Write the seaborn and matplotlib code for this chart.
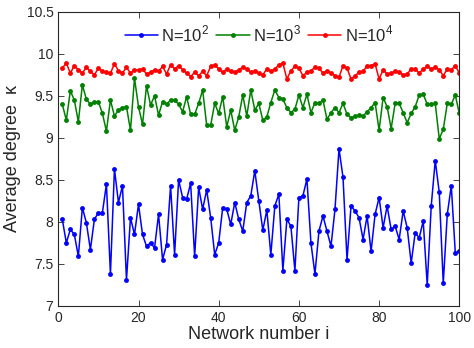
import numpy as np
import pandas as pd
import matplotlib
matplotlib.use("Agg")
import matplotlib.pyplot as plt
import seaborn as sns

# network index
idx = list(range(1, 101))

# average degree, N=10^2
k_100 = [8.03, 7.75, 7.91, 7.85, 7.59, 8.17, 7.99, 7.67, 8.03, 8.11,
         8.11, 8.45, 7.38, 8.63, 8.23, 8.43, 7.31, 8.05, 7.85, 8.21,
         7.85, 7.71, 7.75, 7.69, 8.09, 7.55, 7.73, 8.43, 7.61, 8.50,
         8.29, 8.27, 8.46, 7.59, 8.41, 8.15, 8.38, 8.05, 7.61, 7.75,
         8.17, 8.15, 7.97, 8.23, 8.03, 7.89, 8.23, 8.31, 8.61, 8.25,
         7.90, 8.14, 7.61, 8.19, 8.33, 7.42, 8.03, 7.95, 7.42, 8.29,
         8.31, 8.51, 7.75, 7.38, 7.89, 8.07, 7.89, 7.71, 8.15, 8.87,
         8.53, 7.55, 8.19, 8.13, 8.05, 7.79, 8.07, 7.65, 8.09, 8.29,
         7.93, 8.19, 7.91, 7.95, 7.79, 8.13, 7.93, 7.51, 7.87, 7.81,
         8.01, 7.25, 8.19, 8.73, 8.35, 7.27, 8.09, 8.43, 7.63, 7.65]

# average degree, N=10^3
k_1000 = [9.40, 9.21, 9.56, 9.45, 9.19, 9.63, 9.46, 9.40, 9.43, 9.43,
          9.29, 9.08, 9.45, 9.26, 9.33, 9.36, 9.37, 9.09, 9.71, 9.37,
          9.16, 9.62, 9.39, 9.50, 9.27, 9.43, 9.40, 9.45, 9.45, 9.40,
          9.31, 9.49, 9.28, 9.28, 9.41, 9.57, 9.15, 9.15, 9.41, 9.29,
          9.49, 9.13, 9.33, 9.09, 9.25, 9.51, 9.26, 9.57, 9.33, 9.41,
          9.21, 9.25, 9.42, 9.57, 9.48, 9.46, 9.36, 9.30, 9.34, 9.51,
          9.36, 9.52, 9.30, 9.42, 9.41, 9.45, 9.22, 9.30, 9.36, 9.30,
          9.41, 9.28, 9.24, 9.26, 9.27, 9.26, 9.31, 9.36, 9.42, 9.09,
          9.48, 9.37, 9.11, 9.41, 9.41, 9.30, 9.18, 9.29, 9.37, 9.51,
          9.52, 9.40, 9.40, 9.41, 8.99, 9.10, 9.41, 9.40, 9.51, 9.29]

# average degree, N=10^4
k_10000 = [9.83, 9.89, 9.77, 9.86, 9.81, 9.77, 9.84, 9.79, 9.75, 9.83,
           9.79, 9.78, 9.77, 9.88, 9.80, 9.77, 9.84, 9.77, 9.81, 9.81,
           9.82, 9.76, 9.78, 9.81, 9.79, 9.85, 9.76, 9.87, 9.82, 9.86,
           9.81, 9.77, 9.73, 9.78, 9.74, 9.79, 9.74, 9.85, 9.87, 9.82,
           9.78, 9.82, 9.79, 9.78, 9.81, 9.84, 9.82, 9.78, 9.80, 9.77,
           9.75, 9.82, 9.79, 9.82, 9.87, 9.89, 9.70, 9.80, 9.85, 9.83,
           9.74, 9.78, 9.80, 9.84, 9.83, 9.77, 9.80, 9.77, 9.74, 9.72,
           9.86, 9.83, 9.70, 9.74, 9.78, 9.79, 9.86, 9.86, 9.88, 9.70,
           9.81, 9.76, 9.77, 9.79, 9.78, 9.75, 9.76, 9.82, 9.82, 9.77,
           9.82, 9.85, 9.82, 9.84, 9.81, 9.74, 9.82, 9.81, 9.86, 9.77]

labels = ["N=10$^2$", "N=10$^3$", "N=10$^4$"]
colors = ["#0000ff", "#008000", "#ff0000"]

df = pd.concat([
    pd.DataFrame({"i": idx, "k": k, "N": lab})
    for k, lab in zip([k_100, k_1000, k_10000], labels)
], ignore_index=True)

sns.set_style("ticks")
plt.rcParams["font.family"] = ["Liberation Sans", "DejaVu Sans"]
plt.rcParams["mathtext.fontset"] = "custom"
plt.rcParams["mathtext.rm"] = "Liberation Sans"

fig = plt.figure(figsize=(4.74, 3.48), dpi=100)
ax = fig.add_axes([0.123, 0.121, 0.846, 0.845])

sns.lineplot(data=df, x="i", y="k", hue="N", palette=colors, marker="o",
             markersize=3.5, markeredgewidth=0, linewidth=1.1, ax=ax)

ax.set_xlim(0, 100)
ax.set_ylim(7, 10.5)
ax.set_xticks([0, 20, 40, 60, 80, 100])
ax.set_yticks([7, 7.5, 8, 8.5, 9, 9.5, 10, 10.5])
ax.set_yticklabels(["7", "7.5", "8", "8.5", "9", "9.5", "10", "10.5"])
ax.tick_params(direction="in", top=True, right=True, labelsize=10, length=4, width=0.6)
for s in ax.spines.values():
    s.set_linewidth(0.8)

ax.set_xlabel("Network number i", fontsize=13, labelpad=1)
ax.set_ylabel("Average degree  \u03ba", fontsize=13, labelpad=4)

ax.legend(loc="upper center", bbox_to_anchor=(0.5, 1.0), ncol=3, frameon=False,
          fontsize=12, handlelength=2.0, handletextpad=0.2, columnspacing=0.4,
          borderaxespad=0.3)

fig.savefig("out.png", dpi=100)
